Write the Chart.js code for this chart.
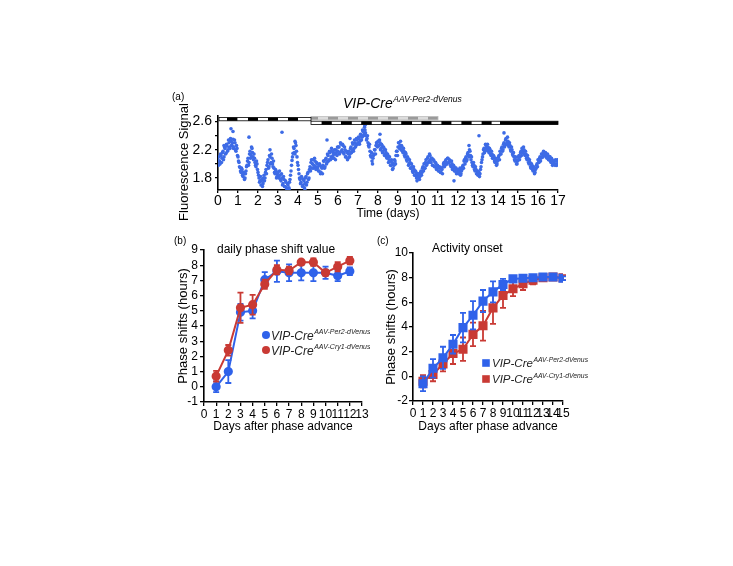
<!DOCTYPE html>
<html>
<head>
<meta charset="utf-8">
<script src="https://cdn.jsdelivr.net/npm/chart.js"></script>
<style>
  body { margin: 0; background: #fff; width: 733px; height: 566px; position: relative; overflow: hidden; }
  canvas { position: absolute; }
</style>
</head>
<body>
<canvas id="chartA" width="420" height="140" style="left:160px;top:85px"></canvas>
<canvas id="chartB" width="210" height="210" style="left:160px;top:230px"></canvas>
<canvas id="chartC" width="225" height="210" style="left:370px;top:230px"></canvas>
<script>
// ---- panel (a): fluorescence trace, readings every 0.05 day (two interleaved sets) ----
const sampleStep = 0.05;
const fluorescence = [
  2.05, 2.10, 2.00, 2.12, 2.08, 2.18, 2.10, 2.22, 2.15, 2.25, 2.20, 2.30, 2.22, 2.32, 2.26, 2.35, 2.24, 2.30, 2.18, 2.22,
  2.10, 2.02, 1.95, 1.88, 1.92, 1.82, 1.86, 1.80, 1.90, 1.98, 2.08, 2.02, 2.18, 2.12, 2.22, 2.10, 2.14, 2.02, 1.96, 2.00,
  1.88, 1.80, 1.76, 1.70, 1.78, 1.72, 1.84, 1.80, 1.92, 1.98, 2.06, 1.96, 2.10, 2.02, 2.08, 1.96, 1.94, 1.86, 1.90, 1.82,
  1.88, 1.80, 1.84, 1.76, 1.80, 1.72, 1.78, 1.68, 1.74, 1.64, 1.70, 1.66, 1.78, 1.90, 2.05, 2.15, 2.22, 2.14, 2.26, 2.10,
  1.98, 1.86, 1.78, 1.74, 1.80, 1.70, 1.76, 1.72, 1.82, 1.74, 1.88, 1.80, 1.96, 2.02, 1.94, 2.06, 1.98, 2.04, 1.92, 2.00,
  1.96, 1.90, 1.98, 1.88, 1.94, 1.98, 2.04, 1.96, 2.08, 2.02, 2.12, 2.06, 2.16, 2.10, 2.18, 2.12, 2.08, 2.14, 2.20, 2.12,
  2.18, 2.24, 2.16, 2.28, 2.20, 2.26, 2.14, 2.20, 2.10, 2.16, 2.08, 2.18, 2.14, 2.24, 2.20, 2.28, 2.22, 2.30, 2.26, 2.34,
  2.30, 2.36, 2.32, 2.40, 2.38, 2.46, 2.42, 2.48, 2.40, 2.36, 2.30, 2.24, 2.18, 2.10, 2.04, 2.08, 2.14, 2.20, 2.26, 2.30,
  2.32, 2.26, 2.30, 2.22, 2.26, 2.18, 2.22, 2.14, 2.16, 2.08, 2.12, 2.06, 2.04, 1.98, 2.02, 1.94, 1.98, 2.04, 2.12, 2.18,
  2.24, 2.30, 2.26, 2.20, 2.24, 2.16, 2.18, 2.10, 2.14, 2.04, 2.08, 2.00, 2.02, 1.94, 1.96, 1.88, 1.92, 1.84, 1.88, 1.82,
  1.80, 1.86, 1.82, 1.90, 1.88, 1.96, 2.00, 1.94, 2.06, 2.00, 2.10, 2.04, 2.12, 2.02, 2.08, 1.98, 2.04, 1.96, 2.00, 1.94,
  1.96, 1.90, 1.94, 1.88, 1.92, 1.96, 2.02, 1.98, 2.06, 2.00, 2.08, 2.02, 2.04, 1.96, 2.00, 1.94, 1.96, 1.90, 1.94, 1.88,
  1.92, 1.88, 1.94, 1.86, 1.92, 1.98, 2.04, 2.00, 2.10, 2.06, 2.16, 2.10, 2.18, 2.06, 2.02, 1.96, 1.98, 1.90, 1.92, 1.86,
  1.84, 1.88, 1.86, 1.96, 2.06, 2.14, 2.22, 2.18, 2.26, 2.20, 2.24, 2.16, 2.20, 2.12, 2.14, 2.08, 2.10, 2.02, 2.06, 2.00,
  2.06, 2.12, 2.18, 2.14, 2.24, 2.20, 2.30, 2.26, 2.36, 2.30, 2.32, 2.24, 2.26, 2.18, 2.20, 2.12, 2.10, 2.04, 2.06, 2.00,
  2.06, 2.12, 2.10, 2.18, 2.22, 2.16, 2.20, 2.12, 2.14, 2.06, 2.08, 2.00, 2.02, 1.94, 1.98, 1.90, 1.92, 1.88, 1.94, 2.00,
  2.06, 2.02, 2.10, 2.08, 2.14, 2.10, 2.16, 2.12, 2.14, 2.08, 2.12, 2.06, 2.10, 2.02, 2.06, 2.00, 2.04, 1.98, 2.04, 2.00,
  2.04
];
// readings taken half a step later (day + 0.025)
const fluorescenceLate = [
  1.98, 2.04, 2.14, 2.02, 2.16, 2.06, 2.24, 2.14, 2.28, 2.18, 2.34, 2.24, 2.36, 2.26, 2.30, 2.22, 2.34, 2.20, 2.26, 2.12,
  2.04, 1.96, 1.90, 1.94, 1.84, 1.88, 1.78, 1.86, 1.96, 2.04, 1.98, 2.14, 2.08, 2.24, 2.16, 2.06, 2.08, 1.98, 2.04, 1.92,
  1.84, 1.74, 1.82, 1.76, 1.68, 1.80, 1.76, 1.88, 1.86, 2.02, 1.94, 2.12, 2.00, 2.14, 2.00, 2.04, 1.88, 1.92, 1.80, 1.86,
  1.82, 1.90, 1.78, 1.86, 1.70, 1.82, 1.68, 1.76, 1.66, 1.72, 1.62, 1.74, 1.84, 1.98, 2.10, 2.24, 2.16, 2.30, 2.18, 2.02,
  1.92, 1.80, 1.72, 1.82, 1.68, 1.78, 1.66, 1.80, 1.70, 1.86, 1.78, 1.92, 1.90, 2.06, 2.00, 1.94, 2.08, 1.96, 2.02, 1.94,
  1.90, 2.00, 1.86, 1.96, 1.86, 2.04, 1.94, 2.06, 2.00, 2.14, 2.04, 2.18, 2.06, 2.22, 2.08, 2.16, 2.20, 2.06, 2.16, 2.24,
  2.24, 2.14, 2.30, 2.18, 2.28, 2.16, 2.24, 2.10, 2.18, 2.06, 2.14, 2.10, 2.22, 2.16, 2.30, 2.18, 2.34, 2.24, 2.36, 2.28,
  2.38, 2.28, 2.42, 2.34, 2.48, 2.40, 2.52, 2.44, 2.34, 2.40, 2.26, 2.28, 2.12, 2.16, 2.00, 2.12, 2.20, 2.14, 2.30, 2.24,
  2.26, 2.34, 2.20, 2.28, 2.16, 2.24, 2.12, 2.20, 2.10, 2.14, 2.02, 2.10, 1.98, 2.06, 1.92, 2.00, 2.06, 2.00, 2.18, 2.12,
  2.30, 2.22, 2.32, 2.26, 2.18, 2.22, 2.12, 2.16, 2.06, 2.10, 1.98, 2.06, 1.94, 2.00, 1.90, 1.96, 1.84, 1.90, 1.80, 1.86,
  1.84, 1.78, 1.88, 1.84, 1.94, 1.90, 1.94, 2.02, 1.98, 2.08, 2.02, 2.14, 2.06, 2.08, 1.98, 2.06, 1.96, 2.02, 1.92, 1.98,
  1.90, 1.96, 1.88, 1.94, 1.86, 2.00, 1.96, 2.04, 2.00, 2.08, 2.02, 2.06, 1.98, 2.04, 1.92, 1.98, 1.90, 1.94, 1.86, 1.92,
  1.86, 1.92, 1.84, 1.90, 1.96, 1.94, 2.06, 2.08, 2.04, 2.14, 2.12, 2.20, 2.12, 2.10, 1.98, 2.02, 1.92, 1.96, 1.86, 1.90,
  1.88, 1.82, 1.92, 2.02, 2.10, 2.20, 2.16, 2.28, 2.22, 2.28, 2.18, 2.22, 2.14, 2.18, 2.08, 2.12, 2.04, 2.08, 1.98, 2.04,
  2.10, 2.06, 2.14, 2.22, 2.18, 2.28, 2.24, 2.34, 2.28, 2.38, 2.26, 2.30, 2.20, 2.24, 2.14, 2.16, 2.06, 2.10, 2.00, 2.04,
  2.10, 2.06, 2.16, 2.12, 2.18, 2.24, 2.14, 2.18, 2.08, 2.12, 2.02, 2.06, 1.96, 2.00, 1.92, 1.96, 1.86, 1.92, 1.98, 1.96,
  2.02, 2.08, 2.04, 2.14, 2.10, 2.18, 2.12, 2.16, 2.10, 2.14, 2.06, 2.10, 2.04, 2.08, 1.98, 2.04, 2.00, 2.06, 1.98, 2.06
];
// stray readings [day, signal]
const fluorOutliers = [
  [0.65, 2.50], [0.75, 2.46], [1.55, 2.38], [3.20, 2.45], [3.45, 1.62], [3.55, 1.64],
  [4.35, 1.63], [7.35, 2.55], [11.80, 1.76], [13.05, 2.40], [5.45, 2.34], [9.95, 1.76],
  [0.30, 2.26], [2.60, 2.20], [3.85, 2.32], [6.60, 2.36], [8.10, 2.42], [12.55, 2.26], [14.30, 2.44]
];
const fluorTicks = [1.8, 2.0, 2.2, 2.4, 2.6];
const fluorTickLabels = ['1.8', '', '2.2', '', '2.6'];
const dayRangeA = [0, 17];
// light/dark schedule bars (days)
const ldBefore = { from: 0.05, to: 4.65, dark: [[0.45, 0.97], [1.5, 2.0], [2.5, 3.0], [3.5, 4.0]] };
const ldOld = { from: 4.65, to: 11.0, dark: [[4.65, 5.0], [5.5, 6.0], [6.5, 7.0], [7.5, 8.0], [8.5, 9.0], [9.5, 10.0], [10.5, 11.0]] };
const ldAfter = { from: 4.65, to: 17, dark: [[5.18, 5.69], [6.15, 6.69], [7.16, 7.69], [8.16, 8.66], [9.16, 9.7], [10.17, 10.67], [11.17, 11.67], [12.17, 12.68], [13.18, 13.68], [14.1, 17]] };

// ---- panel (b): daily phase shift value ----
const daysB = [1, 2, 3, 4, 5, 6, 7, 8, 9, 10, 11, 12];
const per2Daily = [0.0, 1.0, 4.9, 5.0, 7.05, 7.6, 7.5, 7.5, 7.5, 7.5, 7.3, 7.6];
const per2DailyErr = [0.35, 0.75, 0.55, 0.5, 0.5, 0.7, 0.55, 0.5, 0.55, 0.4, 0.35, 0.25];
const cry1Daily = [0.7, 2.4, 5.2, 5.4, 6.75, 7.7, 7.65, 8.2, 8.2, 7.5, 7.9, 8.3];
const cry1DailyErr = [0.35, 0.35, 1.0, 0.65, 0.3, 0.3, 0.25, 0.15, 0.25, 0.2, 0.3, 0.25];

// ---- panel (c): activity onset ----
const daysC = [1, 2, 3, 4, 5, 6, 7, 8, 9, 10, 11, 12, 13, 14, 15];
const per2Onset = [-0.6, 0.65, 1.5, 2.6, 3.95, 4.95, 6.1, 6.85, 7.45, 7.9, 7.95, 8.0, 8.05, 8.05, 7.95];
const per2OnsetErr = [0.6, 0.75, 0.9, 0.75, 1.2, 1.15, 0.9, 0.85, 0.45, 0.25, 0.2, 0.12, 0.1, 0.1, 0.15];
const cry1Onset = [-0.4, 0.15, 1.0, 1.85, 2.2, 3.4, 4.1, 5.55, 6.55, 7.1, 7.5, 7.8, 8.0, 8.05, 8.0];
const cry1OnsetErr = [0.5, 0.55, 0.6, 0.85, 0.95, 0.95, 1.2, 1.3, 1.0, 0.6, 0.5, 0.35, 0.25, 0.15, 0.2];

const BLUE = '#2f62ea';
const RED = '#c93a34';
const DOT = '#3d6be6';
const FAMILY = '"Liberation Sans", Arial, Helvetica, sans-serif';
Chart.defaults.font.family = FAMILY;
Chart.defaults.color = '#000';

function pairs(xs, ys) { return xs.map((x, i) => ({ x: x, y: ys[i] })); }

function supText(ctx, x, y, base, sup, size, supSize, color) {
  ctx.save();
  ctx.fillStyle = color;
  ctx.textAlign = 'left';
  ctx.textBaseline = 'alphabetic';
  ctx.font = 'italic ' + size + 'px ' + FAMILY;
  ctx.fillText(base, x, y);
  const w = ctx.measureText(base).width;
  ctx.font = 'italic ' + supSize + 'px ' + FAMILY;
  ctx.fillText(sup, x + w + 0.5, y - size * 0.42);
  ctx.restore();
}

// plain/rotated text labels and superscripted legend/title entries
const textBits = {
  id: 'textBits',
  afterDraw(chart, args, opts) {
    const ctx = chart.ctx;
    (opts.plain || []).forEach(t => {
      ctx.save();
      ctx.fillStyle = '#000';
      ctx.font = t.size + 'px ' + FAMILY;
      ctx.translate(t.x, t.y);
      if (t.rotate) {
        ctx.rotate(-Math.PI / 2);
        ctx.textAlign = 'center';
        ctx.textBaseline = 'middle';
      } else {
        ctx.textAlign = 'left';
      }
      ctx.fillText(t.text, 0, 0);
      ctx.restore();
    });
    (opts.sup || []).forEach(t => {
      if (t.marker) {
        ctx.save();
        ctx.fillStyle = t.color;
        ctx.beginPath();
        if (t.marker === 'circle') ctx.arc(t.mx, t.my, t.ms, 0, Math.PI * 2);
        else ctx.rect(t.mx - t.ms, t.my - t.ms, t.ms * 2, t.ms * 2);
        ctx.fill();
        ctx.restore();
      }
      supText(ctx, t.x, t.y, t.base, t.sup, t.size, t.supSize, t.textColor || '#000');
    });
  }
};

// vertical error bars with caps
const errorBars = {
  id: 'errorBars',
  beforeDatasetDraw(chart, args) {
    const ds = chart.data.datasets[args.index];
    if (!ds.errors) return;
    const ctx = chart.ctx, xs = chart.scales.x, ys = chart.scales.y;
    ctx.save();
    ctx.strokeStyle = ds.borderColor;
    ctx.lineWidth = 1.8;
    ds.data.forEach((p, i) => {
      const e = ds.errors[i];
      const px = xs.getPixelForValue(p.x);
      const top = ys.getPixelForValue(p.y + e), bot = ys.getPixelForValue(p.y - e);
      ctx.beginPath();
      ctx.moveTo(px, top); ctx.lineTo(px, bot);
      ctx.moveTo(px - 3, top); ctx.lineTo(px + 3, top);
      ctx.moveTo(px - 3, bot); ctx.lineTo(px + 3, bot);
      ctx.stroke();
    });
    ctx.restore();
  }
};

// light/dark bars above panel (a)
const ldBars = {
  id: 'ldBars',
  afterDatasetsDraw(chart) {
    const ctx = chart.ctx, xs = chart.scales.x, ys = chart.scales.y;
    const row = (sched, lo, hi, darkColor, lightColor, edge) => {
      const y0 = ys.getPixelForValue(hi), y1 = ys.getPixelForValue(lo);
      const x0 = xs.getPixelForValue(sched.from), x1 = xs.getPixelForValue(sched.to);
      ctx.fillStyle = lightColor;
      ctx.fillRect(x0, y0, x1 - x0, y1 - y0);
      ctx.fillStyle = darkColor;
      sched.dark.forEach(d => {
        const a = xs.getPixelForValue(d[0]), b = xs.getPixelForValue(d[1]);
        ctx.fillRect(a, y0, b - a, y1 - y0);
      });
      ctx.strokeStyle = edge;
      ctx.lineWidth = 0.8;
      ctx.strokeRect(x0, y0, x1 - x0, y1 - y0);
    };
    ctx.save();
    row(ldOld, 2.625, 2.672, '#9a9a9a', '#dcdcdc', '#bdbdbd');
    row(ldBefore, 2.612, 2.658, '#000', '#fff', '#000');
    row(ldAfter, 2.558, 2.606, '#000', '#fff', '#000');
    ctx.restore();
  }
};

const tickGrid = (len) => ({ drawOnChartArea: false, drawTicks: true, tickLength: len, color: '#000', lineWidth: 1.3 });
const border = { color: '#000', width: 1.6 };

new Chart(document.getElementById('chartA'), {
  type: 'scatter',
  data: {
    datasets: [{
      data: fluorescence.map((v, i) => ({ x: +(i * sampleStep).toFixed(3), y: v })),
      backgroundColor: DOT, borderWidth: 0, pointRadius: 1.8
    }, {
      data: fluorescenceLate.map((v, i) => ({ x: +(i * sampleStep + sampleStep / 2).toFixed(3), y: v })),
      backgroundColor: DOT, borderWidth: 0, pointRadius: 1.8
    }, {
      data: fluorOutliers.map(p => ({ x: p[0], y: p[1] })),
      backgroundColor: DOT, borderWidth: 0, pointRadius: 1.8
    }]
  },
  options: {
    responsive: false,
    animation: false,
    layout: { padding: { top: 31, right: 22, left: 0, bottom: 0 } },
    plugins: {
      legend: { display: false },
      tooltip: { enabled: false },
      textBits: {
        plain: [
          { text: '(a)', x: 12, y: 15, size: 10 },
          { text: 'Fluorescence Signal', x: 24, y: 77, size: 13, rotate: true }
        ],
        sup: [{ base: 'VIP-Cre', sup: 'AAV-Per2-dVenus', x: 183, y: 23, size: 14, supSize: 8.5 }]
      }
    },
    scales: {
      x: {
        type: 'linear', min: dayRangeA[0], max: dayRangeA[1],
        afterFit: s => { s.height = 35; },
        ticks: { stepSize: 1, autoSkip: false, maxRotation: 0, padding: 0, font: { size: 14 } },
        grid: tickGrid(3), border: border,
        title: { display: true, text: 'Time (days)', font: { size: 12 }, padding: { top: 0, bottom: 4 } }
      },
      y: {
        min: 1.63, max: 2.68,
        afterFit: s => { s.width = 58; },
        afterBuildTicks: s => { s.ticks = fluorTicks.map(v => ({ value: v })); },
        ticks: { autoSkip: false, callback: (v, i) => fluorTickLabels[i], padding: 3, font: { size: 14 } },
        grid: tickGrid(3), border: border
      }
    }
  },
  plugins: [ldBars, textBits]
});

new Chart(document.getElementById('chartB'), {
  type: 'line',
  data: {
    datasets: [{
      label: 'VIP-Cre AAV-Per2-dVenus',
      data: pairs(daysB, per2Daily), errors: per2DailyErr,
      borderColor: BLUE, backgroundColor: BLUE, borderWidth: 2, pointRadius: 3.6, order: 1
    }, {
      label: 'VIP-Cre AAV-Cry1-dVenus',
      data: pairs(daysB, cry1Daily), errors: cry1DailyErr,
      borderColor: RED, backgroundColor: RED, borderWidth: 2, pointRadius: 3.6, order: 0
    }]
  },
  options: {
    responsive: false,
    animation: false,
    layout: { padding: { top: 20, right: 8, left: 0, bottom: 0 } },
    plugins: {
      legend: { display: false },
      tooltip: { enabled: false },
      textBits: {
        plain: [
          { text: '(b)', x: 14, y: 14, size: 10 },
          { text: 'daily phase shift value', x: 57, y: 23, size: 12 }
        ],
        sup: [
          { marker: 'circle', color: BLUE, mx: 106, my: 105, ms: 4, base: 'VIP-Cre', sup: 'AAV-Per2-dVenus', x: 111, y: 109.5, size: 12, supSize: 7, textColor: '#222' },
          { marker: 'circle', color: RED, mx: 106, my: 120, ms: 4, base: 'VIP-Cre', sup: 'AAV-Cry1-dVenus', x: 111, y: 124.5, size: 12, supSize: 7, textColor: '#222' }
        ]
      }
    },
    scales: {
      x: {
        type: 'linear', min: 0, max: 13,
        afterFit: s => { s.height = 38; },
        ticks: { stepSize: 1, autoSkip: false, maxRotation: 0, padding: 1, font: { size: 12 } },
        grid: tickGrid(4), border: border,
        title: { display: true, text: 'Days after phase advance', font: { size: 12 }, padding: { top: 0, bottom: 6 } }
      },
      y: {
        min: -1, max: 9,
        afterFit: s => { s.width = 44; },
        ticks: { stepSize: 1, autoSkip: false, padding: 2, font: { size: 12 } },
        grid: tickGrid(4), border: border,
        title: { display: true, text: 'Phase shifts (hours)', font: { size: 13 }, padding: { top: 16, bottom: 0 } }
      }
    }
  },
  plugins: [errorBars, textBits]
});

new Chart(document.getElementById('chartC'), {
  type: 'line',
  data: {
    datasets: [{
      label: 'VIP-Cre AAV-Per2-dVenus',
      data: pairs(daysC, per2Onset), errors: per2OnsetErr,
      borderColor: BLUE, backgroundColor: BLUE, borderWidth: 2, pointStyle: 'rect', pointRadius: 5, order: 0
    }, {
      label: 'VIP-Cre AAV-Cry1-dVenus',
      data: pairs(daysC, cry1Onset), errors: cry1OnsetErr,
      borderColor: RED, backgroundColor: RED, borderWidth: 2, pointStyle: 'rect', pointRadius: 5, order: 1
    }]
  },
  options: {
    responsive: false,
    animation: false,
    layout: { padding: { top: 23, right: 32, left: 0, bottom: 0 } },
    plugins: {
      legend: { display: false },
      tooltip: { enabled: false },
      textBits: {
        plain: [
          { text: '(c)', x: 7, y: 14, size: 10 },
          { text: 'Activity onset', x: 62, y: 22, size: 12 }
        ],
        sup: [
          { marker: 'rect', color: BLUE, mx: 116, my: 133, ms: 3.8, base: 'VIP-Cre', sup: 'AAV-Per2-dVenus', x: 122, y: 137, size: 11.5, supSize: 6.8, textColor: '#222' },
          { marker: 'rect', color: RED, mx: 116, my: 149, ms: 3.8, base: 'VIP-Cre', sup: 'AAV-Cry1-dVenus', x: 122, y: 153, size: 11.5, supSize: 6.8, textColor: '#222' }
        ]
      }
    },
    scales: {
      x: {
        type: 'linear', min: 0, max: 15,
        afterFit: s => { s.height = 39; },
        ticks: { stepSize: 1, autoSkip: false, maxRotation: 0, padding: 1, font: { size: 12 } },
        grid: tickGrid(4), border: border,
        title: { display: true, text: 'Days after phase advance', font: { size: 12 }, padding: { top: 0, bottom: 6 } }
      },
      y: {
        min: -2, max: 10,
        afterFit: s => { s.width = 43; },
        ticks: { stepSize: 2, autoSkip: false, padding: 1, font: { size: 12 } },
        grid: tickGrid(4), border: border,
        title: { display: true, text: 'Phase shifts (hours)', font: { size: 13 }, padding: { top: 14, bottom: 0 } }
      }
    }
  },
  plugins: [errorBars, textBits]
});
</script>
</body>
</html>
